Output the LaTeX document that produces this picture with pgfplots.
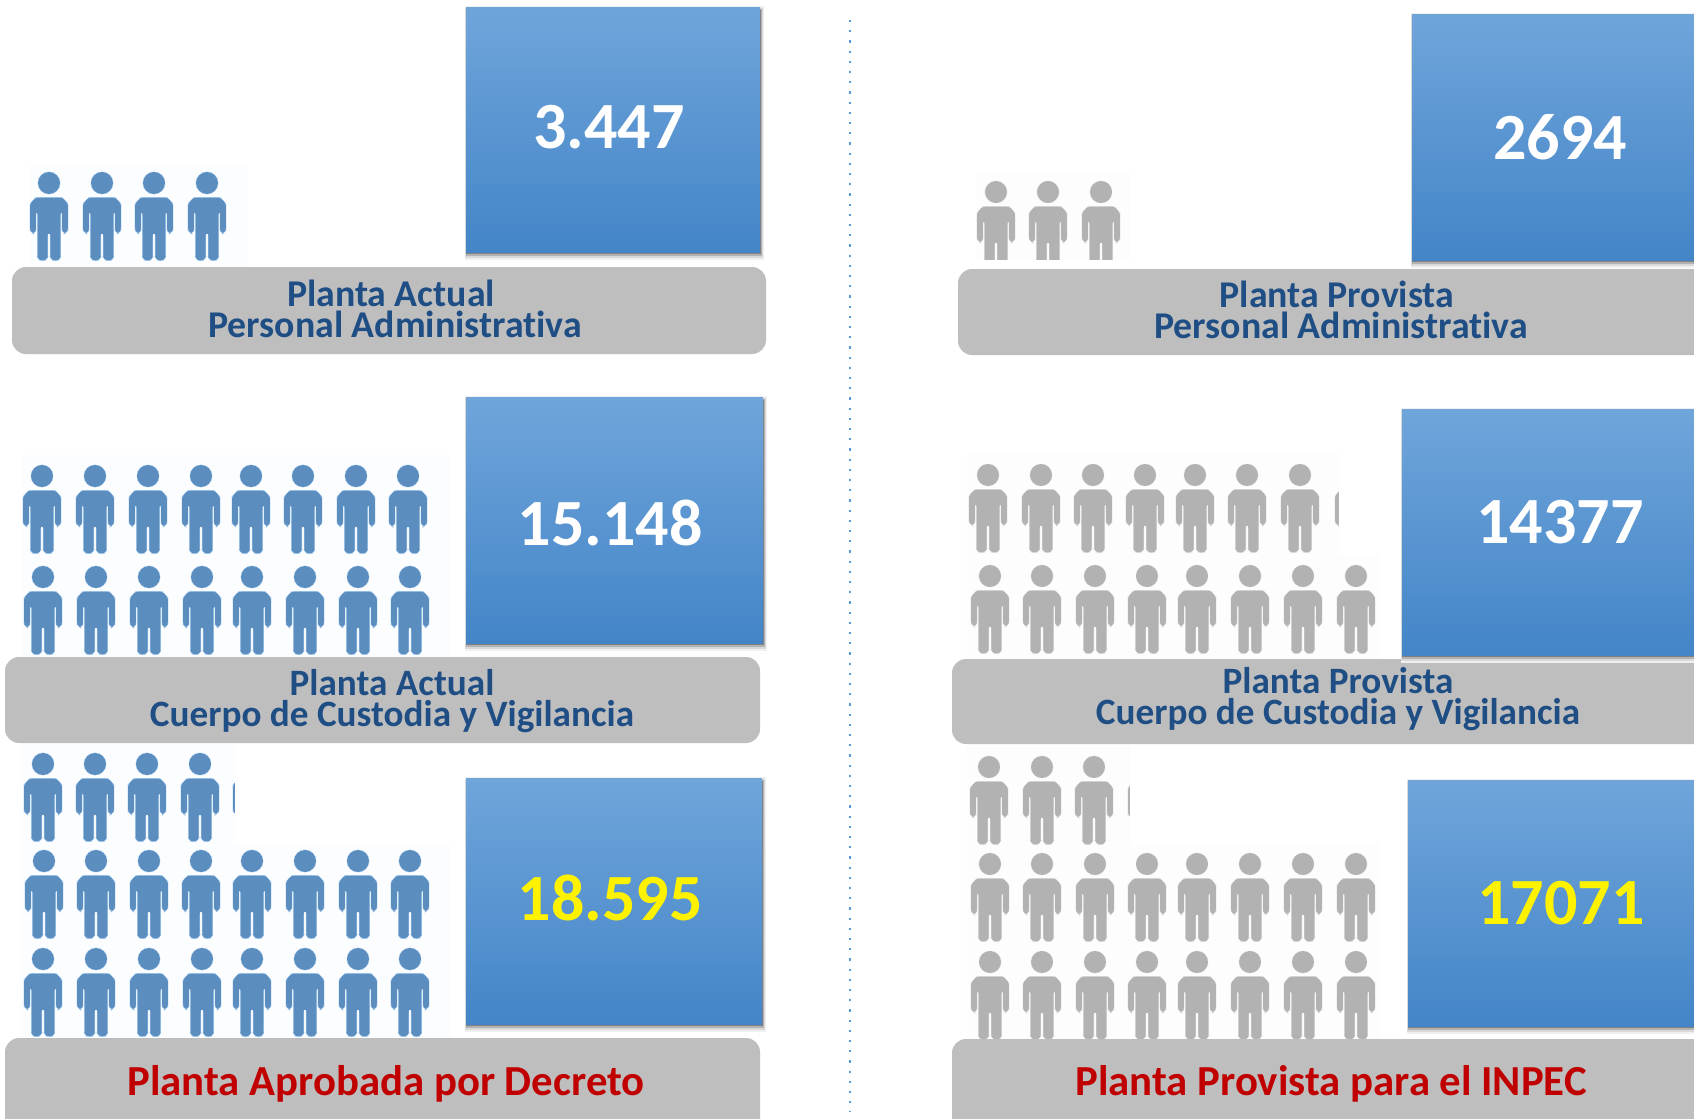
\documentclass[border=0pt]{standalone}
\usepackage{pgfplots}
\pgfplotsset{compat=1.18}
\usepackage{fontspec}
\setmainfont[Ligatures=CommonOff]{Carlito}
\definecolor{persB}{HTML}{5B8DBF}
\definecolor{haloB}{HTML}{B5D7F5}
\definecolor{persG}{HTML}{B2B2B3}
\definecolor{haloG}{HTML}{E2E2E2}
\definecolor{barG}{HTML}{BEBEBE}
\definecolor{boxT}{HTML}{70A5DA}
\definecolor{boxM}{HTML}{5599DC}
\definecolor{boxB}{HTML}{4385C8}
\definecolor{navy}{HTML}{1F4E85}
\definecolor{redT}{HTML}{C00000}
\definecolor{dotB}{HTML}{5B9BD5}
\definecolor{patchB}{HTML}{FCFDFF}
\definecolor{patchG}{HTML}{FDFDFD}
\newcommand{\personbody}{
  (-13,-15) -- (13,-15) -- (18.5,-21) -- (18.5,-47) -- (15.7,-50) -- (13.5,-47) -- (13.5,-29)
  -- (11,-29) -- (11,-74) -- (9,-77) -- (4,-77) -- (1.8,-74) -- (1.8,-50) -- (-1.8,-50)
  -- (-1.8,-74) -- (-4,-77) -- (-9,-77) -- (-11,-74) -- (-11,-29) -- (-13.5,-29)
  -- (-13.5,-47) -- (-15.7,-50) -- (-18.5,-47) -- (-18.5,-21) -- cycle
}
\pgfdeclareplotmark{personblue}{
  \draw[x=0.5pt,y=0.5pt,haloB,line width=0.9pt,line join=round] (0pt,0pt) circle[radius=5.25pt] \personbody;
  \fill[persB] (0pt,0pt) circle[radius=5.25pt];
  \fill[x=0.5pt,y=0.5pt,persB,rounded corners=1.1pt] \personbody;
}
\pgfdeclareplotmark{persongray}{
  \draw[x=0.5pt,y=0.5pt,haloG,line width=0.8pt,line join=round] (0pt,0pt) circle[radius=5.25pt] \personbody;
  \fill[persG] (0pt,0pt) circle[radius=5.25pt];
  \fill[x=0.5pt,y=0.5pt,persG,rounded corners=1.1pt] \personbody;
}
\newcommand{\rect}[5]{\addplot[#5] coordinates {(#1,#2)(#3,#2)(#3,#4)(#1,#4)} --cycle;}
\newcommand{\numbox}[4]{%
  \rect{#1-1}{#2-1}{#3+4}{#4+8}{fill=black!6,draw=none}
  \rect{#1-1}{#2+1}{#3+3}{#4+6}{fill=black!15,draw=none}
  \rect{#1}{#2+2}{#3+2}{#4+4}{fill=black!30,draw=none}
  \rect{#1}{#2+3}{#3+1}{#4+2}{fill=black!50,draw=none}
  \rect{#1}{#2}{#3}{#4}{draw=none,top color=boxT,middle color=boxM,bottom color=boxB}
}
\newcommand{\graybar}[4]{\rect{#1}{#2}{#3}{#4}{fill=barG,draw=none,rounded corners=7pt}}
\newcommand{\lab}[4]{\node[anchor=base,text=#1,font=\bfseries\fontsize{#4}{#4}\selectfont,inner sep=0pt] at (axis cs:#2) {#3};}
\newcommand{\twolab}[4]{\node[anchor=base,text=navy,align=center,font=\bfseries\fontsize{#4}{15.5}\selectfont,inner sep=0pt] at (axis cs:#1) {#2\\#3};}
\begin{document}
\begin{tikzpicture}
\begin{axis}[scale only axis,width=847pt,height=559.5pt,clip marker paths=true,
  xmin=0,xmax=1694,ymin=0,ymax=1119,y dir=reverse,hide axis,enlargelimits=false]
\rect{0}{0}{1694}{1119}{fill=white,draw=none}
% divider
\addplot[dotB,line width=1.2pt,dash pattern=on 1.1pt off 4pt] coordinates {(850,20)(850,1112)};
% faint backgrounds of the icon strips
\rect{30}{163}{248}{267}{fill=patchB,draw=none}
\rect{22}{455}{450}{660}{fill=patchB,draw=none}
\rect{20}{745}{235}{841}{fill=patchB,draw=none}
\rect{20}{841}{450}{1040}{fill=patchB,draw=none}
\rect{977}{171}{1130}{260}{fill=patchG,draw=none}
\rect{967}{453}{1339}{555}{fill=patchG,draw=none}
\rect{967}{555}{1380}{660}{fill=patchG,draw=none}
\rect{967}{745}{1130}{843}{fill=patchG,draw=none}
\rect{967}{843}{1380}{1040}{fill=patchG,draw=none}
% blue icons
\addplot[only marks,mark=personblue] coordinates {(49,183)(102,183)(154,183)(207,183)};
\addplot[only marks,mark=personblue] coordinates {(42,476)(95,476)(148,476)(201,476)(251,476)(303,476)(356,476)(408,476)};
\addplot[only marks,mark=personblue] coordinates {(43,577)(96,577)(149,577)(202,577)(252,577)(305,577)(358,577)(410,577)};
\addplot[only marks,mark=personblue] coordinates {(43,764)(95,764)(147,764)(200,764)(252,764)};
\addplot[only marks,mark=personblue] coordinates {(44,861)(96,861)(149,861)(201,861)(252,861)(305,861)(358,861)(410,861)};
\addplot[only marks,mark=personblue] coordinates {(43,959)(96,959)(149,959)(202,959)(252,959)(305,959)(358,959)(410,959)};
% gray icons
\addplot[only marks,mark=persongray] coordinates {(996,192)(1048,192)(1101,192)};
\addplot[only marks,mark=persongray] coordinates {(988,475)(1041,475)(1093,475)(1145,475)(1195,475)(1247,475)(1300,475)(1354,475)};
\addplot[only marks,mark=persongray] coordinates {(990,576)(1042,576)(1095,576)(1147,576)(1197,576)(1250,576)(1303,576)(1356,576)};
\addplot[only marks,mark=persongray] coordinates {(989,767)(1042,767)(1094,767)(1147,767)};
\addplot[only marks,mark=persongray] coordinates {(990,864)(1042,864)(1095,864)(1147,864)(1197,864)(1250,864)(1303,864)(1356,864)};
\addplot[only marks,mark=persongray] coordinates {(990,962)(1042,962)(1095,962)(1147,962)(1197,962)(1250,962)(1303,962)(1356,962)};
% crops of the icon pictures
\rect{970}{260}{1140}{269}{fill=white,draw=none}
\rect{235}{745}{460}{844}{fill=white,draw=none}
\rect{1339}{450}{1400}{554}{fill=white,draw=none}
\rect{1130}{745}{1200}{846}{fill=white,draw=none}
% grey bars
\graybar{12}{267}{766}{354}
\graybar{958}{269}{1760}{355}
\graybar{5}{657}{760}{743}
\graybar{952}{659}{1760}{744}
\graybar{5}{1038}{760}{1140}
\graybar{952}{1039}{1760}{1140}
% blue boxes
\numbox{466}{7}{760}{252}
\numbox{466}{397}{763}{643}
\numbox{466}{778}{762}{1024}
\numbox{1412}{14}{1720}{260}
\numbox{1402}{409}{1720}{655}
\numbox{1408}{780}{1720}{1026}
% numbers
\lab{white}{609,148}{3.447}{33}
\lab{white}{610,545}{15.148}{33}
\lab{yellow}{610,920}{18.595}{33}
\lab{white}{1560,159}{2694}{33}
\lab{white}{1560,543}{14377}{33}
\lab{yellow}{1561,924}{17071}{33}
% labels
\twolab{395,337}{Planta Actual\hspace*{4pt}}{Personal Administrativa}{18.9}
\twolab{392,726}{Planta Actual}{Cuerpo de Custodia y Vigilancia}{18.6}
\twolab{1341,338}{Planta Provista\hspace*{4pt}}{Personal Administrativa}{18.9}
\twolab{1338,724}{Planta Provista}{Cuerpo de Custodia y Vigilancia}{18.6}
\lab{redT}{386,1095}{Planta Aprobada por Decreto}{21.4}
\lab{redT}{1331,1095}{Planta Provista para el INPEC}{21.4}
\end{axis}
\end{tikzpicture}
\end{document}
